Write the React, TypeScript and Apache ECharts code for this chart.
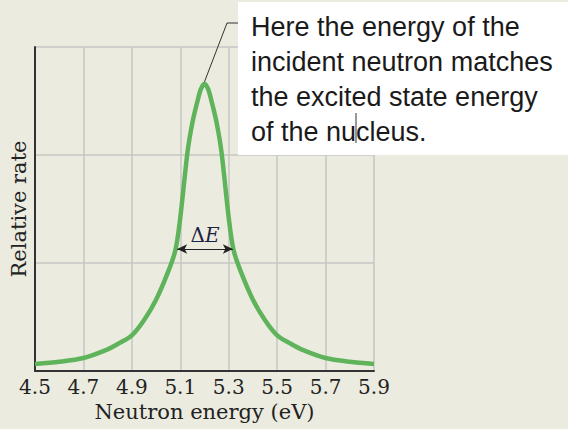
import React, { useEffect, useRef } from "react";
import * as echarts from "echarts";

const energies = [4.5, 4.6, 4.7, 4.8, 4.85, 4.9, 4.95, 5.0, 5.05, 5.08, 5.1, 5.13, 5.15, 5.17, 5.185, 5.2, 5.215, 5.23, 5.25, 5.27, 5.3, 5.32, 5.35, 5.4, 5.45, 5.5, 5.55, 5.6, 5.7, 5.8, 5.9];
const rates = [0.065, 0.085, 0.12, 0.2, 0.26, 0.33, 0.47, 0.66, 0.92, 1.12, 1.42, 2.03, 2.3, 2.49, 2.61, 2.66, 2.61, 2.49, 2.3, 2.03, 1.42, 1.12, 0.92, 0.66, 0.47, 0.33, 0.26, 0.2, 0.12, 0.085, 0.065];
const xTicks = { min: 4.5, max: 5.9, step: 0.2 };
const yTicks = { min: 0, max: 3, step: 1 };
const deltaE = [5.087, 5.317];
const deltaELevel = 1.13;
const peak = [5.2, 2.66];
const calloutLines = [
  "Here the energy of the",
  "incident neutron matches",
  "the excited state energy",
  "of the nucleus.",
];

const SERIF = "'DejaVu Serif', 'Liberation Serif', serif";
const SANS = "'Liberation Sans', Arial, sans-serif";

export default function App() {
  const ref = useRef<HTMLDivElement>(null);
  useEffect(() => {
    if (!ref.current) return;
    const chart = echarts.init(ref.current, null, { renderer: "svg" });
    const option: any = {
      animation: false,
      backgroundColor: "#ecebe0",
      grid: { left: 33, right: 194, top: 47, bottom: 58 },
      xAxis: {
        type: "value",
        min: xTicks.min,
        max: xTicks.max,
        interval: xTicks.step,
        name: "Neutron energy (eV)",
        nameLocation: "middle",
        nameGap: 29,
        nameTextStyle: { fontFamily: SERIF, fontSize: 21, color: "#222" },
        axisLine: { show: true, lineStyle: { color: "#333", width: 2 } },
        axisTick: { show: false },
        axisLabel: {
          fontFamily: SERIF,
          fontSize: 20,
          color: "#222",
          margin: 6,
          formatter: (v: number) => v.toFixed(1),
        },
        splitLine: { show: true, lineStyle: { color: "#c6c6c6", width: 1.5 } },
      },
      yAxis: {
        type: "value",
        min: yTicks.min,
        max: yTicks.max,
        interval: yTicks.step,
        name: "Relative rate",
        nameLocation: "middle",
        nameGap: 6,
        nameTextStyle: { fontFamily: SERIF, fontSize: 21, color: "#222" },
        axisLine: { show: true, lineStyle: { color: "#333", width: 2 } },
        axisTick: { show: false },
        axisLabel: { show: false },
        splitLine: { show: true, lineStyle: { color: "#c6c6c6", width: 1.5 } },
      },
      series: [
        {
          type: "line",
          data: energies.map((e, i) => [e, rates[i]]),
          smooth: 0.3,
          showSymbol: false,
          symbol: "none",
          lineStyle: { color: "#5fb45b", width: 4.5 },
          silent: true,
          markLine: {
            silent: true,
            symbol: ["arrow", "arrow"],
            symbolSize: [7, 10],
            lineStyle: { color: "#222", width: 1.2, type: "solid" },
            label: {
              show: true,
              position: "insideMiddleTop",
              distance: 4,
              formatter: "{a|Δ}{b|E}",
              rich: {
                a: { fontFamily: SERIF, fontSize: 20, color: "#1c2340" },
                b: { fontFamily: SERIF, fontSize: 20, fontStyle: "italic", color: "#1c2340" },
              },
            },
            emphasis: { disabled: true },
            data: [[{ coord: [deltaE[0], deltaELevel] }, { coord: [deltaE[1], deltaELevel] }]],
          },
        },
      ],
    };
    chart.setOption(option);
    const p = chart.convertToPixel({ gridIndex: 0 }, peak) as number[];
    chart.setOption({
      graphic: [
        {
          type: "polyline",
          silent: true,
          shape: { points: [[p[0], p[1] - 2], [227, 23], [238, 23]] },
          style: { stroke: "#333", lineWidth: 1, fill: null },
          z: 10,
        },
        {
          type: "rect",
          silent: true,
          shape: { x: 238, y: 2, width: 330, height: 153 },
          style: { fill: "#ffffff" },
          z: 10,
        },
        {
          type: "text",
          silent: true,
          x: 251,
          y: 9,
          style: {
            text: calloutLines.join("\n"),
            font: `27px ${SANS}`,
            lineHeight: 35,
            fill: "#1a1a1a",
          },
          z: 11,
        },
        {
          type: "line",
          silent: true,
          shape: { x1: 356, y1: 113, x2: 356, y2: 143 },
          style: { stroke: "#333", lineWidth: 1 },
          z: 12,
        },
      ],
    });
    return () => chart.dispose();
  }, []);
  return (
    <div
      ref={ref}
      style={{ position: "fixed", left: 0, top: 0, width: 568, height: 429 }}
    />
  );
}
